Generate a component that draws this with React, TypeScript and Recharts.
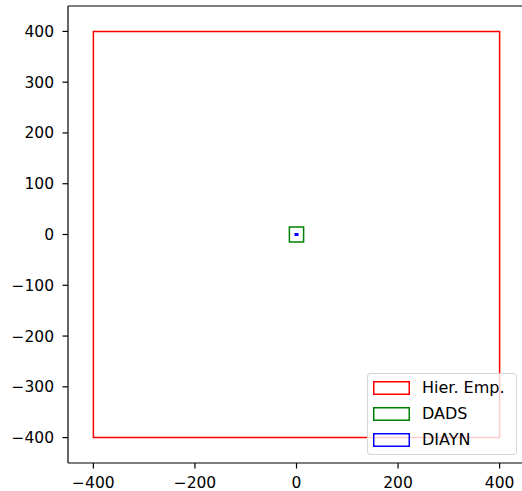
import React from "react";
import { ScatterChart, XAxis, YAxis, ReferenceArea, ReferenceLine } from "recharts";

const seriesNames = ["Hier. Emp.", "DADS", "DIAYN"];
const seriesColors = ["#ff0000", "#008000", "#0000ff"];
const xMin = [-400, -14, -2.5];
const xMax = [400, 14, 2.5];
const yMin = [-400, -15, -1.5];
const yMax = [400, 15, 1.5];
const xTicks = [-400, -200, 0, 200, 400];
const yTicks = [-400, -300, -200, -100, 0, 100, 200, 300, 400];
const axisDomain: [number, number] = [-450, 450];

const FONT = "DejaVu Sans, sans-serif";

export default function App() {
  return (
    <div style={{ position: "fixed", left: 0, top: 0, width: 522, height: 491, overflow: "hidden", background: "#fff" }}>
      <ScatterChart width={530} height={491} margin={{ top: 6, right: 5, bottom: 0, left: 0 }}>
        <XAxis
          type="number"
          dataKey="x"
          domain={axisDomain}
          ticks={xTicks}
          allowDataOverflow
          height={28}
          tickSize={5.5}
          tickMargin={8}
          stroke="#000"
          strokeWidth={1.2}
          tick={{ fill: "#000", fontSize: 15.5, fontFamily: FONT }}
          tickFormatter={(v: number) => String(v).replace("-", "\u2212")}
        />
        <YAxis
          type="number"
          dataKey="y"
          domain={axisDomain}
          ticks={yTicks}
          allowDataOverflow
          width={68}
          tickSize={5.5}
          tickMargin={8.5}
          stroke="#000"
          strokeWidth={1.2}
          tick={{ fill: "#000", fontSize: 15.5, fontFamily: FONT }}
          tickFormatter={(v: number) => String(v).replace("-", "\u2212")}
        />
        <ReferenceLine y={axisDomain[1]} stroke="#000" strokeWidth={1.2} ifOverflow="extendDomain" />
        <ReferenceLine x={axisDomain[1]} stroke="#000" strokeWidth={1.2} ifOverflow="extendDomain" />
        {seriesNames.map((name, i) => (
          <ReferenceArea
            key={name}
            x1={xMin[i]}
            x2={xMax[i]}
            y1={yMin[i]}
            y2={yMax[i]}
            fill="none"
            fillOpacity={0}
            stroke={seriesColors[i]}
            strokeWidth={1.5}
            strokeOpacity={1}
          />
        ))}
      </ScatterChart>
      <div
        style={{
          position: "absolute",
          left: 367,
          top: 373,
          width: 148,
          height: 80,
          border: "1px solid rgba(204,204,204,0.8)",
          borderRadius: 4,
          background: "rgba(255,255,255,0.8)",
          fontFamily: FONT,
          fontSize: 16,
          color: "#000",
        }}
      >
        {seriesNames.map((name, i) => (
          <div key={name} style={{ position: "absolute", left: 5, top: 7 + i * 26, height: 14, display: "flex", alignItems: "center" }}>
            <svg width={37} height={14} style={{ display: "block" }}>
              <rect x={0.75} y={0.75} width={35.5} height={12.5} fill="none" stroke={seriesColors[i]} strokeWidth={1.5} />
            </svg>
            <span style={{ marginLeft: 12, lineHeight: "14px", whiteSpace: "nowrap" }}>{name}</span>
          </div>
        ))}
      </div>
    </div>
  );
}
